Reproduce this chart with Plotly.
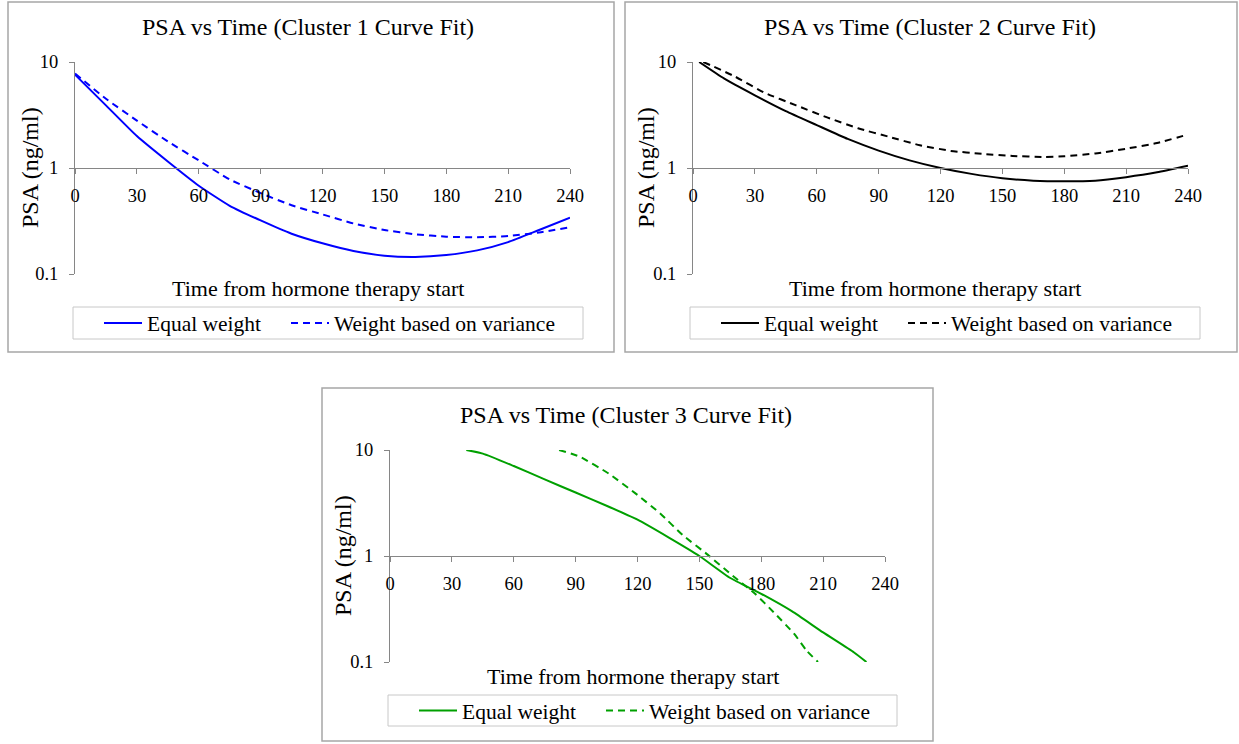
import plotly.graph_objects as go

# ---------------- data ----------------
x_ticks = [0, 30, 60, 90, 120, 150, 180, 210, 240]
y_ticks = [0.1, 1, 10]
y_tick_labels = ["0.1", "1", "10"]

titles = ["PSA vs Time (Cluster 1 Curve Fit)",
          "PSA vs Time (Cluster 2 Curve Fit)",
          "PSA vs Time (Cluster 3 Curve Fit)"]
x_title = "Time from hormone therapy start"
y_title = "PSA (ng/ml)"
series_names = ["Equal weight", "Weight based on variance"]

c1_eq_t = [0, 15, 30, 45, 60, 75, 90, 105, 120, 135, 150, 165, 180, 195, 210, 225, 240]
c1_eq_v = [7.6, 3.9, 2.0, 1.15, 0.68, 0.44, 0.32, 0.24, 0.195, 0.165, 0.149, 0.145, 0.151, 0.167, 0.2, 0.26, 0.34]
c1_wv_t = [0, 15, 30, 45, 60, 75, 90, 105, 120, 135, 150, 165, 180, 195, 210, 225, 240]
c1_wv_v = [7.8, 4.5, 2.8, 1.78, 1.18, 0.78, 0.58, 0.445, 0.365, 0.30, 0.26, 0.237, 0.225, 0.222, 0.228, 0.246, 0.276]

c2_eq_t = [3, 15, 30, 45, 60, 75, 90, 105, 120, 135, 150, 165, 180, 195, 210, 225, 240]
c2_eq_v = [10.0, 7.0, 4.85, 3.44, 2.54, 1.88, 1.46, 1.18, 1.0, 0.88, 0.80, 0.76, 0.75, 0.76, 0.82, 0.91, 1.05]
c2_wv_t = [5, 20, 35, 50, 65, 80, 95, 110, 125, 140, 155, 170, 180, 195, 210, 225, 240]
c2_wv_v = [10.0, 7.35, 5.1, 3.9, 3.0, 2.37, 1.97, 1.64, 1.45, 1.36, 1.30, 1.27, 1.29, 1.37, 1.52, 1.72, 2.07]

c3_eq_t = [37, 45, 60, 75, 90, 105, 120, 135, 150, 165, 180, 195, 210, 225, 231]
c3_eq_v = [10.0, 9.25, 7.06, 5.28, 3.97, 2.98, 2.2, 1.5, 1.0, 0.62, 0.44, 0.30, 0.19, 0.123, 0.1]
c3_wv_t = [82, 92, 106, 119, 131, 142, 154, 165, 177, 186, 196, 202, 207.5]
c3_wv_v = [10.0, 8.65, 6.0, 3.9, 2.52, 1.57, 1.03, 0.68, 0.44, 0.295, 0.184, 0.128, 0.1]

colors = ["#0000FF", "#000000", "#00A000"]

# ---------------- layout helpers (pixel geometry) ----------------
W, H = 1239, 744
FONT = "Liberation Serif"

def px(x):
    return x / W

def py(y):
    return 1 - y / H

panels = [
    dict(l=75, r=570, t=62, b=274, box=(8, 2, 614, 352), leg=(73, 307, 583, 339),
         title_c=308, title_y=27, xt_c=318, xt_y=288, yt_x=30),
    dict(l=693, r=1188, t=62, b=274, box=(625, 2, 1237, 352), leg=(690, 307, 1200, 339),
         title_c=930, title_y=27, xt_c=935, xt_y=288, yt_x=646),
    dict(l=390, r=885, t=450, b=662, box=(322, 388, 933, 741), leg=(388, 695, 897, 726),
         title_c=626, title_y=415, xt_c=633, xt_y=676, yt_x=343),
]

series = [
    (c1_eq_t, c1_eq_v, c1_wv_t, c1_wv_v),
    (c2_eq_t, c2_eq_v, c2_wv_t, c2_wv_v),
    (c3_eq_t, c3_eq_v, c3_wv_t, c3_wv_v),
]

fig = go.Figure()
layout = dict(
    width=W, height=H, showlegend=True,
    margin=dict(l=0, r=0, t=0, b=0, pad=0, autoexpand=False),
    paper_bgcolor="white", plot_bgcolor="white",
    font=dict(family=FONT, color="black"),
    shapes=[], annotations=[],
)

AX = "#868686"
leg_offsets = [26, 213]

for i, (p, s) in enumerate(zip(panels, series)):
    n = "" if i == 0 else str(i + 1)
    xa, ya = "x" + n, "y" + n
    c = colors[i]
    legs = ["legend" + ("" if i == 0 else str(2 * i + 1)), "legend" + str(2 * i + 2)]
    fig.add_trace(go.Scatter(x=s[0], y=s[1], mode="lines", name=series_names[0], showlegend=True,
                             line=dict(color=c, width=2, shape="spline", smoothing=0.5),
                             xaxis=xa, yaxis=ya, legend=legs[0]))
    fig.add_trace(go.Scatter(x=s[2], y=s[3], mode="lines", name=series_names[1], showlegend=True,
                             line=dict(color=c, width=2, dash="7px,5px", shape="spline", smoothing=0.5),
                             xaxis=xa, yaxis=ya, legend=legs[1]))

    ymid = (p["t"] + p["b"]) / 2
    layout["xaxis" + n] = dict(
        domain=[px(p["l"]), px(p["r"])], range=[0, 240],
        anchor="free", position=py(ymid), automargin=False,
        tickvals=x_ticks, ticks="outside", ticklen=5, tickcolor=AX, tickwidth=1,
        ticklabelstandoff=6,
        showline=True, linecolor=AX, linewidth=1, showgrid=False, zeroline=False,
        tickfont=dict(family=FONT, size=18.5, color="black"),
    )
    layout["yaxis" + n] = dict(
        domain=[py(p["b"]), py(p["t"])], type="log", range=[-1, 1], automargin=False,
        anchor=xa, tickvals=y_ticks, ticktext=y_tick_labels,
        ticks="outside", ticklen=5, tickcolor=AX, tickwidth=1,
        ticklabelstandoff=7,
        showline=True, linecolor=AX, linewidth=1, showgrid=False, zeroline=False,
        tickfont=dict(family=FONT, size=18.5, color="black"),
    )
    bx = p["box"]
    layout["shapes"].append(dict(type="rect", xref="paper", yref="paper",
                                 x0=px(bx[0]), y0=py(bx[3]), x1=px(bx[2]), y1=py(bx[1]),
                                 line=dict(color="#A6A6A6", width=1.5), layer="below"))
    lb = p["leg"]
    layout["shapes"].append(dict(type="rect", xref="paper", yref="paper",
                                 x0=px(lb[0]), y0=py(lb[3]), x1=px(lb[2]), y1=py(lb[1]),
                                 line=dict(color="#C8C8C8", width=1), layer="below"))
    for k in range(2):
        layout[legs[k]] = dict(
            x=px(lb[0] + leg_offsets[k]), y=py((lb[1] + lb[3]) / 2),
            xanchor="left", yanchor="middle", visible=True,
            orientation="h", bgcolor="rgba(0,0,0,0)", borderwidth=0,
            font=dict(family=FONT, size=21.5, color="black"),
            itemwidth=38,
        )
    layout["annotations"] += [
        dict(text=titles[i], x=px(p["title_c"]), y=py(p["title_y"]), xref="paper", yref="paper",
             xanchor="center", yanchor="middle", showarrow=False,
             font=dict(family=FONT, size=24, color="black")),
        dict(text=x_title, x=px(p["xt_c"]), y=py(p["xt_y"]), xref="paper", yref="paper",
             xanchor="center", yanchor="middle", showarrow=False,
             font=dict(family=FONT, size=22, color="black")),
        dict(text=y_title, x=px(p["yt_x"]), y=py(ymid), xref="paper", yref="paper",
             xanchor="center", yanchor="middle", showarrow=False, textangle=-90,
             font=dict(family=FONT, size=24, color="black")),
    ]

fig.update_layout(**layout)
fig.write_html(
    "out.html",
    config={"displayModeBar": False},
    post_script=("document.documentElement.style.margin='0';"
                 "document.body.style.margin='0';"
                 "document.body.style.overflow='hidden';"
                 "document.documentElement.style.overflow='hidden';"),
)
